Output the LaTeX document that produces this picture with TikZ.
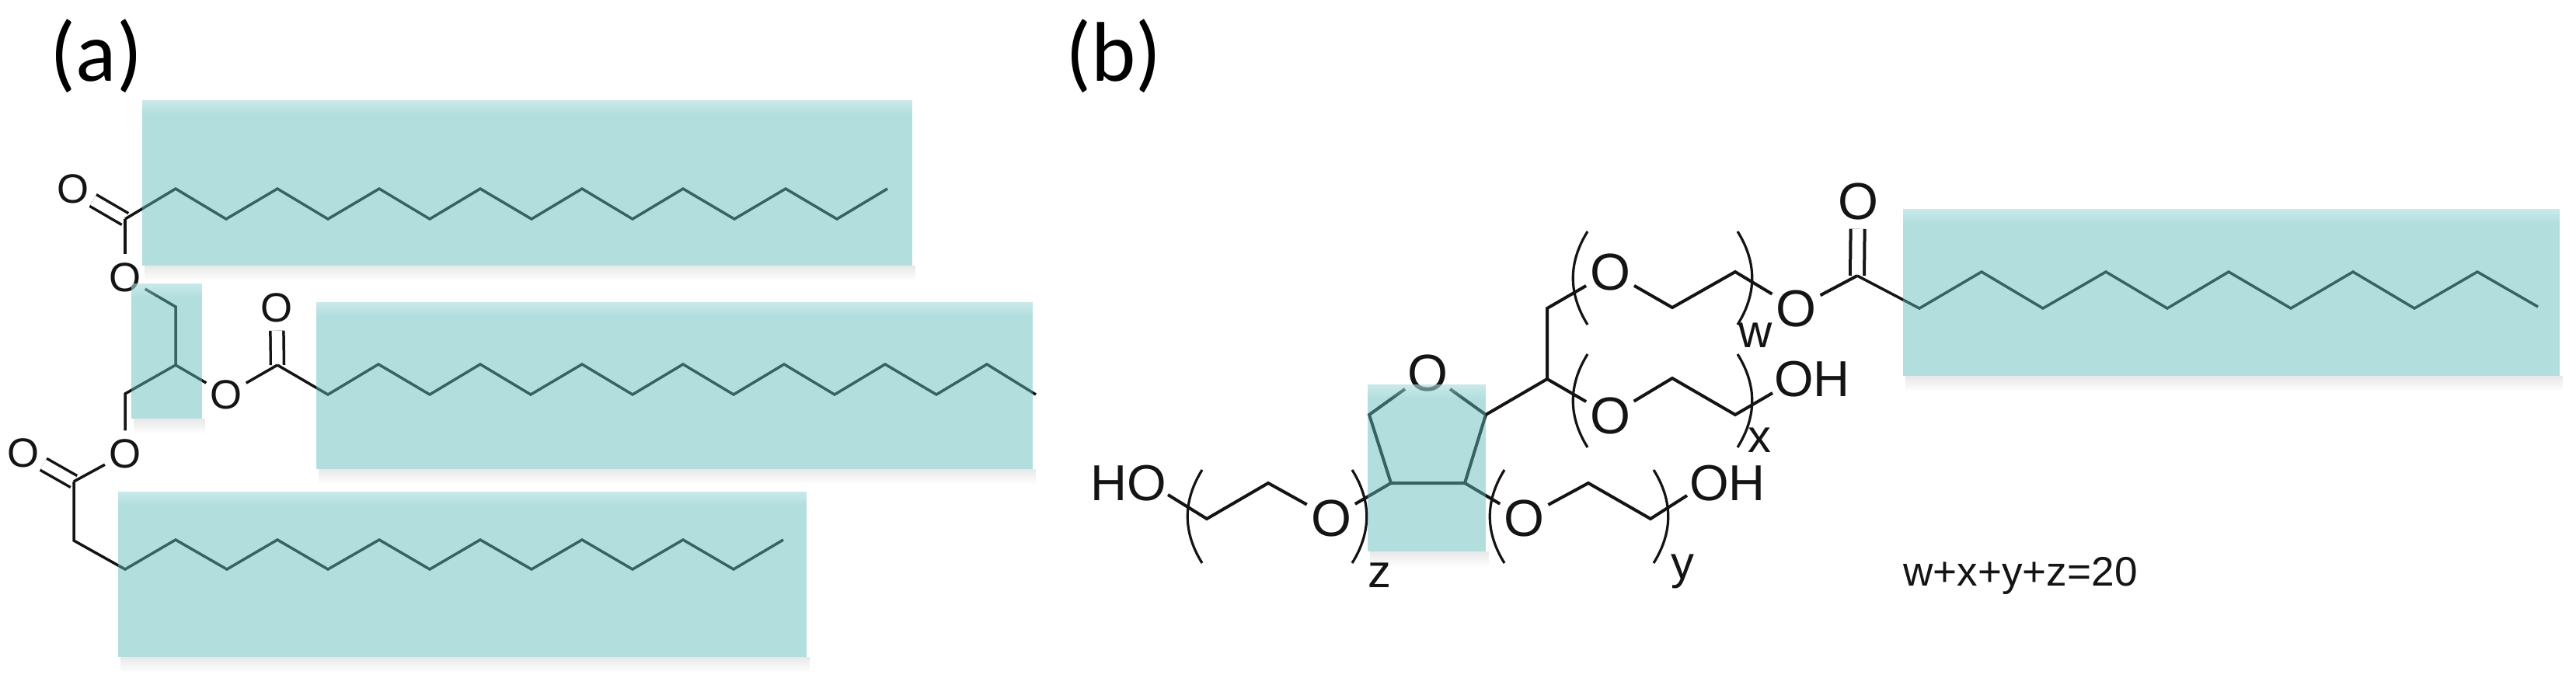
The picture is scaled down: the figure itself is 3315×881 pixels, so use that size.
\documentclass[tikz,border=0pt]{standalone}
\usepackage{fontspec}
\setmainfont{Liberation Sans}
\newfontfamily\panelfont{Carlito}
\usetikzlibrary{fadings}
\definecolor{tealfill}{RGB}{94,187,187}
\definecolor{bondink}{RGB}{20,20,20}

\begin{document}
\begin{tikzpicture}[x=0.01cm, y=-0.01cm,
    panel/.style={font=\panelfont\fontsize{31}{33}\selectfont, inner sep=0pt},
    atoma/.style={circle, inner sep=0pt, minimum size=0.58cm, text=bondink, font=\fontsize{15}{17}\selectfont},
    atomb/.style={circle, inner sep=0pt, minimum size=0.70cm, text=bondink, font=\fontsize{19}{21}\selectfont},
    endgroup/.style={inner sep=0pt, text=bondink, font=\fontsize{18.5}{20}\selectfont},
    subscript/.style={inner sep=0pt, text=bondink, font=\fontsize{17}{19}\selectfont},
    bonda/.style={draw=bondink, line width=0.035cm, line join=miter},
    bondb/.style={draw=bondink, line width=0.04cm, line join=miter},
    doublea/.style={bonda, double, double distance=0.135cm},
    doubleb/.style={bondb, double, double distance=0.14cm},
    paren/.style={draw=bondink, line width=0.032cm},
    tealbox/.style={fill=tealfill, fill opacity=0.48},
    glowstrip/.style={fill=white, fill opacity=0.32, path fading=south},
    shadowstrip/.style={fill=black, fill opacity=0.09, path fading=south}
]
\useasboundingbox (0,0) rectangle (3315,881);

% Panel labels
\node[panel] (la) at (124, 72) {(a)};
\node[panel] (lb) at (1433, 72) {(b)};

% Box shadows
\fill[shadowstrip] (186, 342) rectangle (1178, 362);
\fill[shadowstrip] (172, 539) rectangle (264, 559);
\fill[shadowstrip] (410, 604) rectangle (1333, 624);
\fill[shadowstrip] (155, 846) rectangle (1042, 866);
\fill[shadowstrip] (1763, 710) rectangle (1916, 730);
\fill[shadowstrip] (2452, 484) rectangle (3298, 504);

% Glycerol backbone of (a)
\node[atoma] (oa) at (161, 357) {O};
\node[atoma] (ob) at (291, 508) {O};
\node[atoma] (oc) at (161, 584) {O};
\node[atoma] (dba) at (94, 243) {O};
\node[atoma] (dbb) at (356, 396) {O};
\node[atoma] (dbc) at (30, 583) {O};
\coordinate (ca) at (161, 282);
\coordinate (cb) at (357, 470);
\coordinate (cc) at (95, 620);
\coordinate (gla) at (226, 395);
\coordinate (glb) at (226, 470);
\coordinate (glc) at (161, 507);

\draw[doublea] (dba) -- (ca);
\draw[doublea] (dbb) -- (cb);
\draw[doublea] (dbc) -- (cc);

\draw[bonda] (ca) -- (oa);
\draw[bonda] (oa) -- (gla) -- (glb) -- (glc) -- (oc);
\draw[bonda] (glb) -- (ob);
\draw[bonda] (ob) -- (cb);
\draw[bonda] (oc) -- (cc);

% Chains of (a)
\draw[bonda] (ca) -- (226,243) -- (291,282) -- (357,243) -- (422,282) -- (488,243) -- (553,282) -- (618,243) -- (684,282) -- (749,243) -- (814,282) -- (879,243) -- (945,282) -- (1011,243) -- (1077,282) -- (1142,243);
\draw[bonda] (cb) -- (422,508) -- (487,469) -- (553,508) -- (618,469) -- (683,508) -- (749,469) -- (814,508) -- (879,469) -- (944,508) -- (1009,469) -- (1074,508) -- (1139,469) -- (1205,508) -- (1270,469) -- (1333,508);
\draw[bonda] (cc) -- (95,696) -- (161,733) -- (226,695) -- (292,733) -- (357,695) -- (422,733) -- (488,695) -- (553,733) -- (618,695) -- (684,733) -- (749,695) -- (814,733) -- (879,695) -- (944,733) -- (1008,695);

% Ring of (b)
\node[atomb] (oring) at (1837, 480) {O};
\coordinate (ra) at (1762, 534);
\coordinate (rb) at (1790, 622);
\coordinate (rc) at (1885, 622);
\coordinate (rd) at (1912, 534);
\draw[bondb] (oring) -- (ra) -- (rb) -- (rc) -- (rd) -- (oring);

% Arms of (b)
\node[atomb] (oz) at (1713, 667) {O};
\node[atomb] (oy) at (1961, 667) {O};
\node[atomb] (ox) at (2072, 535) {O};
\node[atomb] (ow) at (2072, 350) {O};
\node[atomb] (oest) at (2311, 397) {O};
\node[atomb] (ocarb) at (2391, 259) {O};
\node[endgroup] (hoz) at (1452, 622) {HO};
\node[endgroup] (ohy) at (2223, 622) {OH};
\node[endgroup] (ohx) at (2332, 488) {OH};
\coordinate (hozend) at (1503, 637);
\coordinate (ohyend) at (2171, 638);
\coordinate (ohxend) at (2281, 506);
\coordinate (cha) at (1991, 488);
\coordinate (chb) at (1991, 397);
\coordinate (cest) at (2390, 355);

\draw[doubleb] (ocarb) -- (cest);
\draw[bondb] (rb) -- (oz);
\draw[bondb] (oz) -- (1632,622) -- (1553,668) -- (hozend);
\draw[bondb] (rc) -- (oy);
\draw[bondb] (oy) -- (2044,622) -- (2124,668) -- (ohyend);
\draw[bondb] (rd) -- (cha) -- (chb) -- (ow);
\draw[bondb] (cha) -- (ox);
\draw[bondb] (ox) -- (2152,487) -- (2233,534) -- (ohxend);
\draw[bondb] (ow) -- (2152,396) -- (2233,350) -- (oest);
\draw[bondb] (oest) -- (cest);

% Chain of (b)
\draw[bonda] (cest) -- (2470,397) -- (2550,350) -- (2629,397) -- (2710,350) -- (2789,397) -- (2868,350) -- (2948,397) -- (3028,350) -- (3107,397) -- (3188,350) -- (3266,395);

% Brackets
\draw[paren] (1547,605) .. controls (1522,645) and (1522,685) .. (1547,725);
\draw[paren] (1740,605) .. controls (1765,645) and (1765,685) .. (1740,725);
\draw[paren] (1936,605) .. controls (1911,645) and (1911,685) .. (1936,725);
\draw[paren] (2128,605) .. controls (2153,645) and (2153,685) .. (2128,725);
\draw[paren] (2043,456) .. controls (2018,496) and (2018,536) .. (2043,576);
\draw[paren] (2236,456) .. controls (2261,496) and (2261,536) .. (2236,576);
\draw[paren] (2043,298) .. controls (2018,338) and (2018,378) .. (2043,418);
\draw[paren] (2236,298) .. controls (2261,338) and (2261,378) .. (2236,418);

% Repeat counts
\node[subscript] (nz) at (1775, 741) {z};
\node[subscript] (ny) at (2165, 736) {y};
\node[subscript] (nx) at (2264, 567) {x};
\node[subscript] (nw) at (2259, 432) {w};
\node[inner sep=0pt, text=bondink, font=\fontsize{15.1}{17}\selectfont] (total) at (2600, 741) {w+x+y+z=20};

% Teal boxes
\fill[tealbox] (183, 129) rectangle (1174, 342);
\fill[tealbox] (169, 365) rectangle (260, 539);
\fill[tealbox] (407, 389) rectangle (1329, 604);
\fill[tealbox] (152, 633) rectangle (1038, 846);
\fill[tealbox] (1760, 495) rectangle (1912, 710);
\fill[tealbox] (2449, 269) rectangle (3294, 484);

% Top edges of the boxes
\fill[glowstrip] (183, 129) rectangle (1174, 147);
\fill[glowstrip] (169, 365) rectangle (260, 383);
\fill[glowstrip] (407, 389) rectangle (1329, 407);
\fill[glowstrip] (152, 633) rectangle (1038, 651);
\fill[glowstrip] (1760, 495) rectangle (1912, 513);
\fill[glowstrip] (2449, 269) rectangle (3294, 287);

\end{tikzpicture}
\end{document}
